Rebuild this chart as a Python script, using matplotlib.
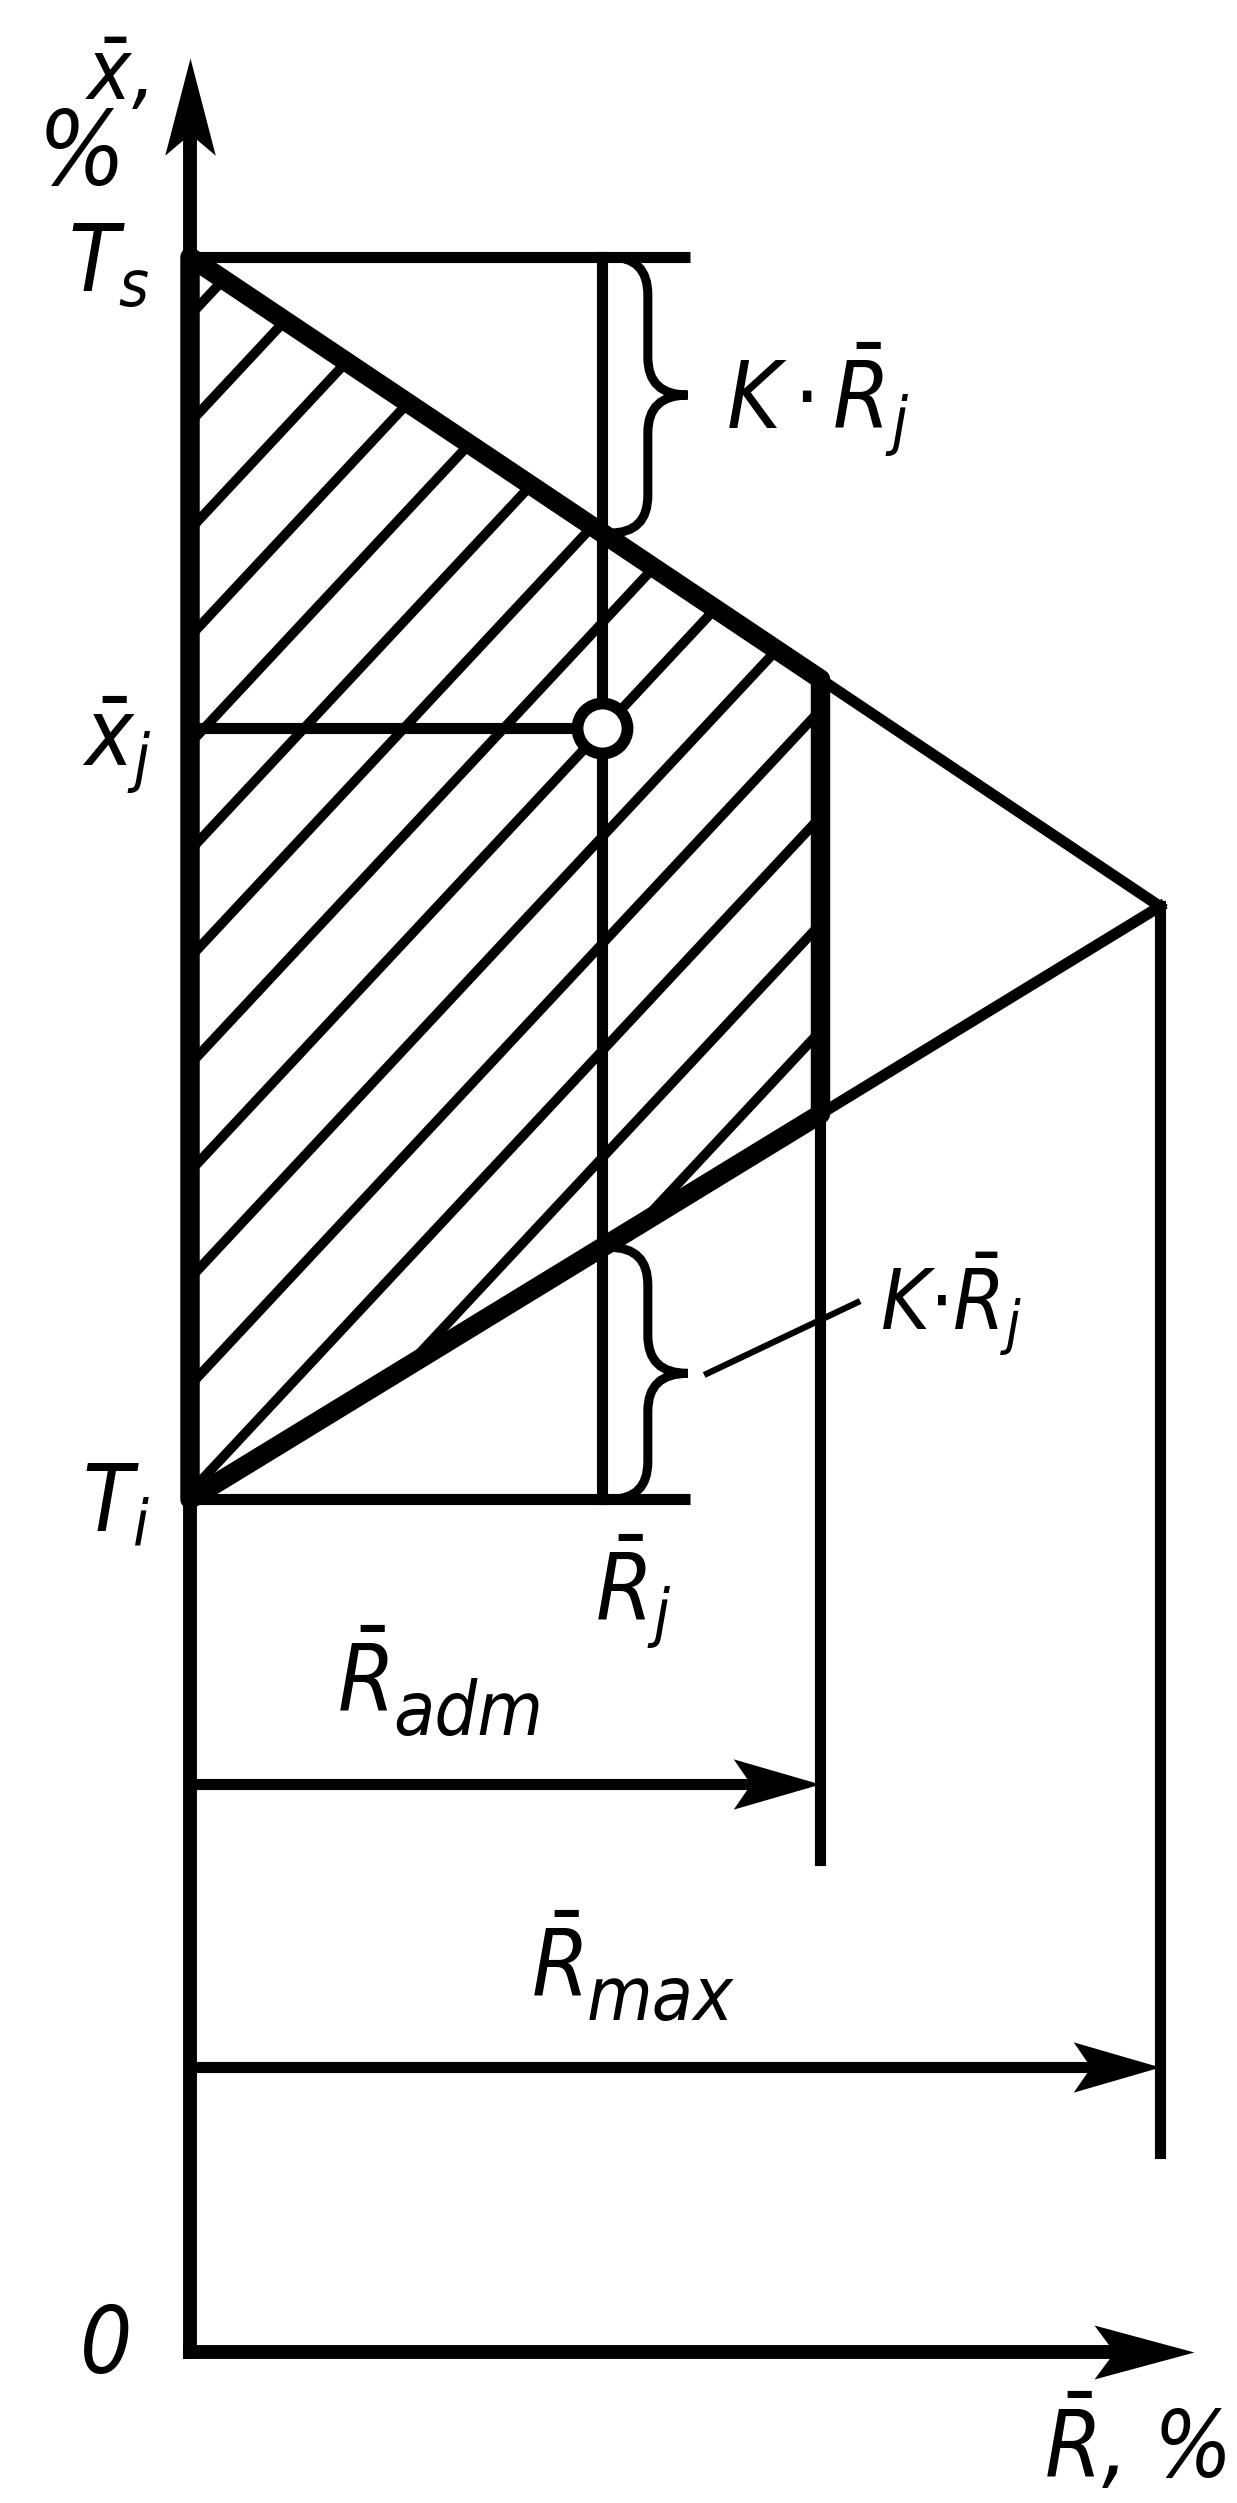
import numpy as np
import matplotlib.pyplot as plt
from matplotlib import font_manager as fm
from matplotlib.path import Path
from matplotlib.patches import PathPatch, Polygon

# narrow italic lettering, like the drawing office type of the original
names = {f.name for f in fm.fontManager.ttflist}
cond_dejavu = any(f.name == "DejaVu Sans" and "condensed" in str(f.stretch)
                  for f in fm.fontManager.ttflist)
if "Liberation Sans Narrow" in names:
    family, stretch = "Liberation Sans Narrow", "normal"
elif "DejaVu Sans Condensed" in names:
    family, stretch = "DejaVu Sans Condensed", "normal"
elif cond_dejavu:
    family, stretch = "DejaVu Sans", "condensed"
else:
    family, stretch = "Liberation Sans", "normal"

plt.rcParams["font.family"] = [family, "DejaVu Sans"]
plt.rcParams["font.stretch"] = stretch
plt.rcParams["mathtext.fontset"] = "custom"
extra = ":stretch=condensed" if stretch == "condensed" else ""
plt.rcParams["mathtext.it"] = f"{family}:italic{extra}"
plt.rcParams["mathtext.rm"] = f"{family}{extra}"

# mean range R (abscissa) and mean x (ordinate), both in %
r_names = ["R_j", "R_adm", "R_max"]
r_values = [42.5, 65.0, 100.0]
x_names = ["T_i", "x_j", "T_s"]
x_values = [40.7, 77.5, 100.0]
x_apex = 69.0  # both control limits meet here at R_max

R_J, R_ADM, R_MAX = r_values
T_I, X_J, T_S = x_values


def upper(r):
    return T_S + (x_apex - T_S) * np.asarray(r) / R_MAX


def lower(r):
    return T_I + (x_apex - T_I) * np.asarray(r) / R_MAX


fig = plt.figure(figsize=(12.37, 25.03), dpi=100)
ax = fig.add_axes([0, 0, 1, 1])
ax.set_xlim(-19.59, 107.94)
ax.set_ylim(-7.21, 112.27)
ax.axis("off")

thin = 8
thick = 14
axis_lw = 10


def arrow_head(x, y, direction, size, ratio=0.27, notch=0.8):
    if direction == "up":
        verts = [(0, 0), (ratio, -1), (0, -notch), (-ratio, -1), (0, 0)]
    else:
        verts = [(0, 0), (-1, ratio), (-notch, 0), (-1, -ratio), (0, 0)]
    codes = [Path.MOVETO] + [Path.LINETO] * 3 + [Path.CLOSEPOLY]
    ax.plot([x], [y], marker=Path(verts, codes), ms=size, color="k",
            mew=0, zorder=6)


# axes
y_top = 109.5
x_right = 103.5
ax.plot([0, 0], [0, y_top - 3], color="k", lw=axis_lw, solid_capstyle="projecting")
ax.plot([0, x_right - 6], [0, 0], color="k", lw=axis_lw, solid_capstyle="projecting")
arrow_head(0, y_top, "up", 140, ratio=0.26, notch=0.78)
arrow_head(x_right, 0, "right", 144, ratio=0.27)

# hatched admissible region
region = [(0, T_S), (R_ADM, float(upper(R_ADM))), (R_ADM, float(lower(R_ADM))),
          (0, T_I)]
poly = Polygon(region, closed=True, fill=False, lw=thick, ec="k",
               joinstyle="round", zorder=4)
ax.add_patch(poly)
clip = Polygon(region, closed=True, fill=False, lw=0, transform=ax.transData)
ax.add_patch(clip)
clip.set_visible(False)
slope = 0.496
gap = 5.107
c0 = 46.14
rr = np.array([-5, R_ADM + 5])
for k in range(-15, 15):
    c = c0 + gap * k
    ln, = ax.plot(rr, c + slope * rr, color="k", lw=7, zorder=2)
    ln.set_clip_path(clip)

# limit lines beyond R_adm
rs = np.array([R_ADM, R_MAX])
ax.plot(rs, upper(rs), color="k", lw=thin, zorder=3)
ax.plot(rs, lower(rs), color="k", lw=thin, zorder=3)

# construction lines
ext = 9
ax.plot([0, R_J + ext], [T_S, T_S], color="k", lw=thin, solid_capstyle="butt")
ax.plot([0, R_J + ext], [T_I, T_I], color="k", lw=thin, solid_capstyle="butt")
ax.plot([R_J, R_J], [T_I, T_S], color="k", lw=thin, zorder=3)
ax.plot([0, R_J], [X_J, X_J], color="k", lw=thin, zorder=3)
ax.plot([R_ADM, R_ADM], [23.5, float(lower(R_ADM))], color="k", lw=thin)
ax.plot([R_MAX, R_MAX], [9.5, x_apex], color="k", lw=thin)

# dimension arrows
y_adm = 27.1
y_max = 13.6
ax.plot([0, R_ADM - 4], [y_adm, y_adm], color="k", lw=thin)
ax.plot([0, R_MAX - 4], [y_max, y_max], color="k", lw=thin)
arrow_head(R_ADM, y_adm, "right", 125, ratio=0.29)
arrow_head(R_MAX, y_max, "right", 125, ratio=0.29)

# point (R_j, x_j)
ax.plot([R_J], [X_J], marker="o", ms=36, mfc="white", mec="k", mew=8.5, zorder=7)


def brace(r0, x_lo, x_hi, body=4.7, tip=8.8, start=0.8, rad=1.8):
    ym = 0.5 * (x_lo + x_hi)
    verts = [(r0 + start, x_hi), (r0 + body, x_hi), (r0 + body, x_hi - rad),
             (r0 + body, ym + rad), (r0 + body, ym), (r0 + tip, ym),
             (r0 + body, ym), (r0 + body, ym - rad),
             (r0 + body, x_lo + rad), (r0 + body, x_lo), (r0 + start, x_lo)]
    codes = [Path.MOVETO, Path.CURVE3, Path.CURVE3, Path.LINETO,
             Path.CURVE3, Path.CURVE3, Path.CURVE3, Path.CURVE3,
             Path.LINETO, Path.CURVE3, Path.CURVE3]
    ax.add_patch(PathPatch(Path(verts, codes), fill=False, lw=6.5, ec="k",
                           capstyle="round", zorder=5))


brace(R_J, float(upper(R_J)), T_S)
brace(R_J, T_I, float(lower(R_J)))

# leader line for the lower K*R_j
ax.plot([53.3, 68.8], [46.7, 50.1], color="k", lw=4.5)

fs = 66
txt = dict(va="center", color="k", fontsize=fs, style="italic")
ax.text(-7.6, 108.6, r"$\bar{x}$,", ha="center", **dict(txt, fontsize=60))
ax.text(-11.2, 104.8, "%", ha="center", **dict(txt, fontsize=74))
ax.text(-4.2, T_S - 0.4, r"$T_s$", ha="right", **txt)
ax.text(-3.9, X_J - 0.8, r"$\bar{x}_j$", ha="right", **txt)
ax.text(-4.1, T_I - 0.3, r"$T_i$", ha="right", **txt)
ax.text(55.3, 93.2, r"$K\,{\cdot}\,\bar{R}_j$", ha="left", **txt)
ax.text(71.1, 50.0, r"$K{\cdot}\bar{R}_j$", ha="left", **dict(txt, fontsize=60))
ax.text(R_J + 3.2, 36.3, r"$\bar{R}_j$", ha="center", **txt)
ax.text(-8.7, 0.24, "0", ha="center", **txt)
ax.text(106.8, -4.5, r"$\bar{R}$, %", ha="right", **txt)

# R_adm and R_max: subscripts almost as tall as the main letter
for r_left, x_mid, sub, drop in [(15.2, 31.8, "adm", -14), (35.2, 18.2, "max", -14)]:
    t = ax.text(r_left, x_mid, r"$\bar{R}$", ha="left", **txt)
    ax.annotate(sub, xy=(1.0, 0.0), xycoords=t, xytext=(3, drop),
                textcoords="offset points", ha="left", va="bottom",
                fontsize=54, style="italic", color="k")

fig.savefig("out.png", dpi=100, facecolor="white")
